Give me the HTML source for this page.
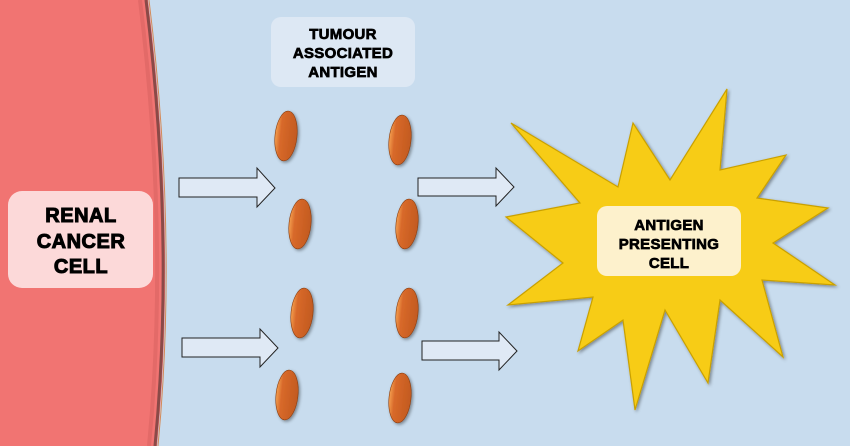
<!DOCTYPE html>
<html><head><style>
body{margin:0;width:850px;height:446px;overflow:hidden;background:#c8dcee;font-family:"Liberation Sans",Arial,sans-serif;}
svg{display:block}
</style></head><body>
<svg width="850" height="446" viewBox="0 0 850 446" xmlns="http://www.w3.org/2000/svg">
<defs>
<filter id="sh" x="-20%" y="-20%" width="140%" height="140%"><feDropShadow dx="1.5" dy="1.5" stdDeviation="1.5" flood-color="#000" flood-opacity="0.4"/></filter>
<linearGradient id="eg" x1="0" x2="1" y1="0" y2="0"><stop offset="0" stop-color="#f4a050"/><stop offset="0.25" stop-color="#d8692a"/><stop offset="1" stop-color="#c25a1f"/></linearGradient>
</defs>
<rect width="850" height="446" fill="#c8dcee"/>
<path d="M0,0 L148,0 Q177,237 157,446 L0,446 Z" fill="#f17472"/>
<path d="M140,0 Q169,237 149,446" fill="none" stroke="#e36a68" stroke-width="4"/>
<path d="M146,0 Q175,237 155,446" fill="none" stroke="#8a4a48" stroke-width="3"/>
<path d="M149,0 Q178,237 158,446" fill="none" stroke="#d58a58" stroke-width="1"/>
<rect x="8" y="191" width="145" height="97" rx="14" fill="#fcd9d9"/>
<g font-weight="bold" font-size="20" text-anchor="middle" fill="#000" stroke="#000" stroke-width="1" letter-spacing="0.5">
<text x="81" y="222">RENAL</text><text x="81" y="248">CANCER</text><text x="81" y="273">CELL</text>
</g>
<rect x="271" y="17" width="144" height="70" rx="10" fill="#dde8f4"/>
<g font-weight="bold" font-size="15" text-anchor="middle" fill="#000" stroke="#000" stroke-width="0.7" letter-spacing="0.3">
<text x="343" y="39">TUMOUR</text><text x="343" y="58">ASSOCIATED</text><text x="343" y="77">ANTIGEN</text>
</g>
<g fill="url(#eg)" stroke="#8a3d10" stroke-width="0.6" filter="url(#sh)">
<ellipse cx="286" cy="136" rx="11" ry="25" transform="rotate(6 286 136)"/>
<ellipse cx="400" cy="140" rx="11" ry="25" transform="rotate(6 400 140)"/>
<ellipse cx="300" cy="224" rx="11" ry="25" transform="rotate(6 300 224)"/>
<ellipse cx="407" cy="224" rx="11" ry="25" transform="rotate(6 407 224)"/>
<ellipse cx="302" cy="313" rx="11" ry="25" transform="rotate(6 302 313)"/>
<ellipse cx="407" cy="313" rx="11" ry="25" transform="rotate(6 407 313)"/>
<ellipse cx="287" cy="395" rx="11" ry="25" transform="rotate(6 287 395)"/>
<ellipse cx="400" cy="398" rx="11" ry="25" transform="rotate(6 400 398)"/>
</g>
<g fill="#dfe9f5" stroke="#222" stroke-width="1">
<path d="M179,178 L257,178 L257,168 L275,188 L257,207 L257,197 L179,197 Z"/>
<path d="M182,338 L260,338 L260,329 L278,348 L260,367 L260,357 L182,357 Z"/>
<path d="M418,178 L496,178 L496,168 L514,187 L496,206 L496,196 L418,196 Z"/>
<path d="M422,341 L499,341 L499,332 L517,351 L499,370 L499,360 L422,360 Z"/>
</g>
<path filter="url(#sh)" fill="#f7cc12" stroke="#c9a000" stroke-width="1.2" d="M511,123 L618,187 L633,123 L670,180 L727,89 L720,170 L786,155 L757,198 L828,208 L773,243 L835,285 L762,280 L783,357 L720,300 L708,383 L665,310 L635,410 L623,320 L578,351 L593,297 L508,305 L563,263 L506,217 L580,203 Z"/>
<rect x="597" y="206" width="144" height="70" rx="10" fill="#fdf1cc"/>
<g font-weight="bold" font-size="15" text-anchor="middle" fill="#000" stroke="#000" stroke-width="0.7" letter-spacing="0.3">
<text x="669" y="230">ANTIGEN</text><text x="669" y="249">PRESENTING</text><text x="669" y="268">CELL</text>
</g>
</svg>
</body></html>
